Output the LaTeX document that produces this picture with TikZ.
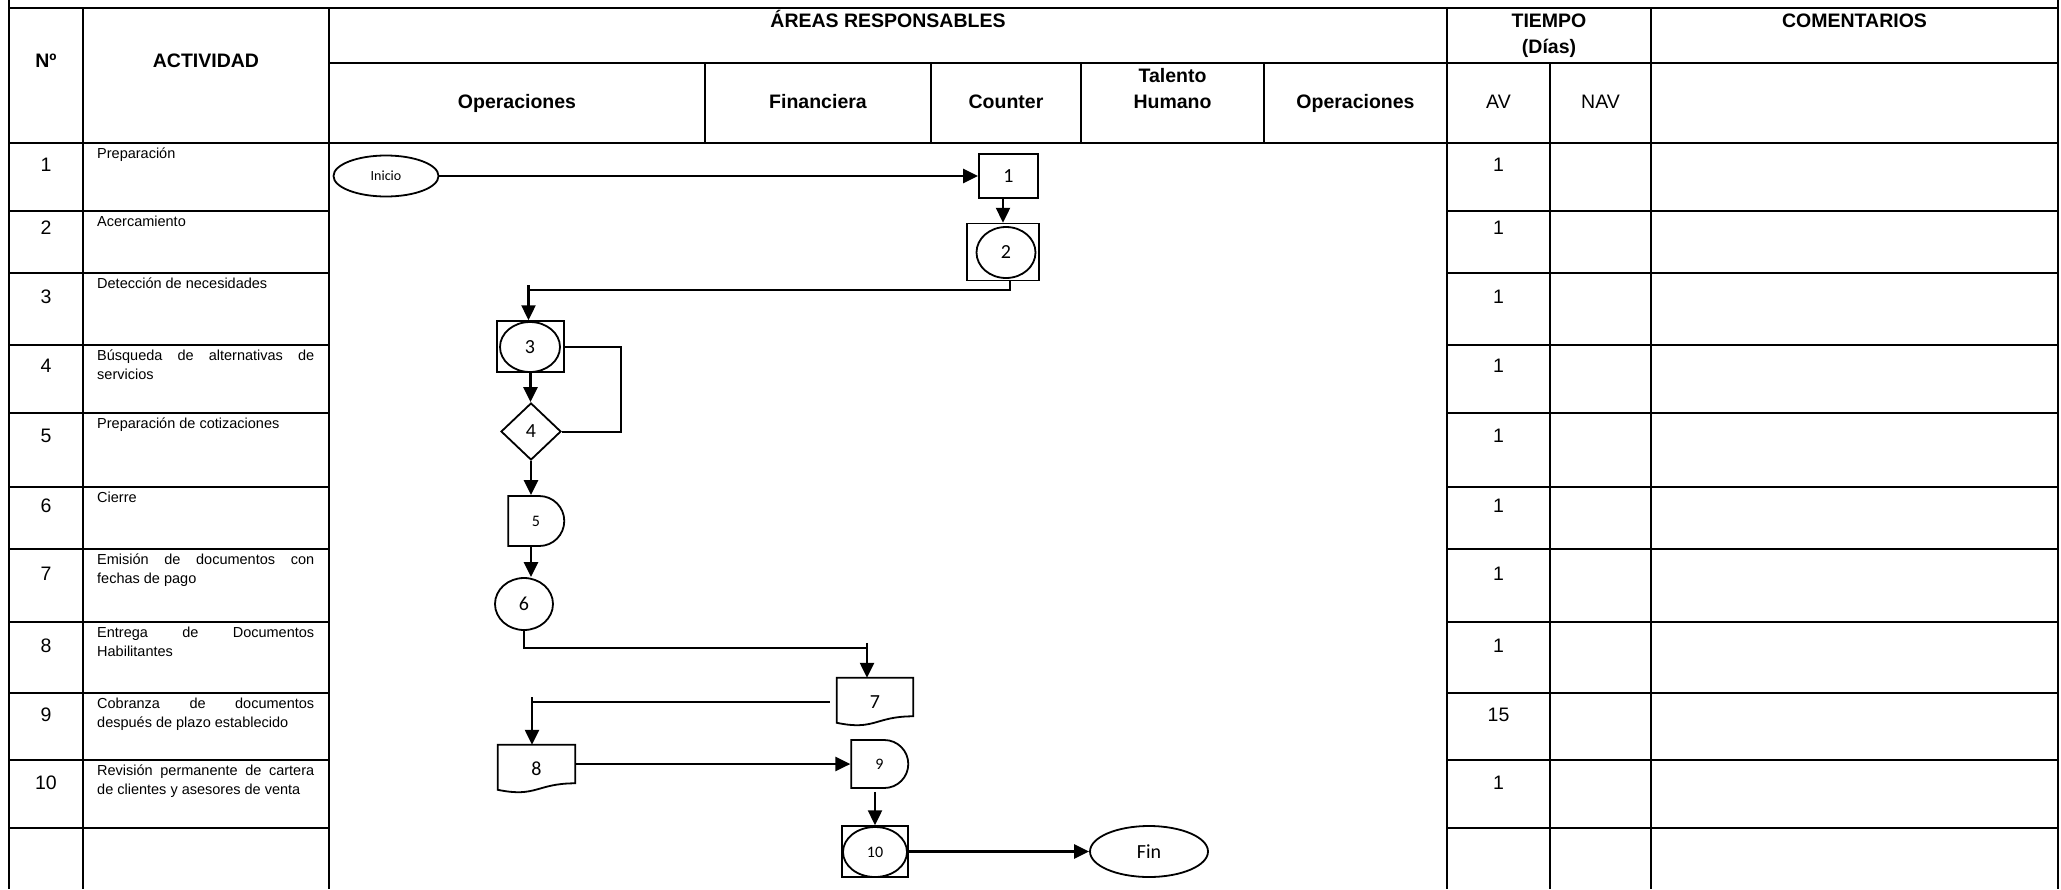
\documentclass[tikz,border=0pt]{standalone}
\usepackage{fontspec}
\setmainfont{Liberation Sans}
\newfontfamily\calibrifont{Carlito}
\usetikzlibrary{arrows.meta,shapes.geometric,shapes.misc,calc}

\begin{document}
\begin{tikzpicture}[x=1pt,y=-1pt,
  grid/.style={line width=2.6pt},
  hdr/.style={font=\bfseries\fontsize{19.5}{25.5}\selectfont, inner sep=0pt, anchor=base},
  num/.style={font=\fontsize{19.5}{23}\selectfont, inner sep=0pt, anchor=base},
  act/.style={font=\fontsize{14.5}{18.6}\selectfont,
              inner sep=0pt, anchor=base west, text width=217pt, align=justify},
  shp/.style={draw, line width=1.8pt, inner sep=0pt, font=\calibrifont\fontsize{20}{24}\selectfont},
  frame/.style={draw, line width=1.5pt, inner sep=0pt},
  small/.style={font=\calibrifont\fontsize{16}{19}\selectfont},
  arr/.style={line width=2.4pt, -{Triangle[length=15pt,width=14pt]}},
  elbow/.style={line width=2pt}]

\fill[white] (0,0) rectangle (2061,889);
\useasboundingbox (0,0) rectangle (2061,889);

% ---------- table frame ----------
\draw[grid] (9,0) -- (9,889);
\draw[grid] (2058,0) -- (2058,889);
\draw[grid] (83,8) -- (83,889);
\draw[grid] (329,8) -- (329,889);
\draw[grid] (1447,8) -- (1447,889);
\draw[grid] (1550,63) -- (1550,889);
\draw[grid] (1651,8) -- (1651,889);
\foreach \x in {705,931,1081,1264} \draw[grid] (\x,63) -- (\x,143);
\draw[grid] (9,8) -- (2058,8);
\draw[grid] (329,63) -- (2058,63);
\draw[grid] (9,143) -- (2058,143);
\foreach \y in {211,273,345,413,487,549,622,693,760,828} {
  \draw[grid] (9,\y) -- (329,\y);
  \draw[grid] (1447,\y) -- (2058,\y);
}

% ---------- headings (multi-line nodes sit on their last baseline) ----------
\node[hdr] (hno) at (46,67) {Nº};
\node[hdr] (hact) at (206,67) {ACTIVIDAD};
\node[hdr] (hareas) at (888,27) {ÁREAS RESPONSABLES};
\node[hdr] (hop1) at (517,108) {Operaciones};
\node[hdr] (hfin) at (818,108) {Financiera};
\node[hdr] (hcou) at (1006,108) {Counter};
\node[hdr, align=center] (htal) at (1172.5,108) {Talento\\Humano};
\node[hdr] (hop2) at (1355.5,108) {Operaciones};
\node[hdr, align=center] (htie) at (1549,53) {TIEMPO\\(Días)};
\node[hdr] (hcom) at (1854.5,27) {COMENTARIOS};
\node[num] (hav) at (1498.5,108) {AV};
\node[num] (hnav) at (1600.5,108) {NAV};

% ---------- activity rows (justified, no hyphenation) ----------
\foreach \i/\top/\b/\a/\t in {
  1/143/171/1/Preparación,
  2/211/234/1/Acercamiento,
  3/273/303/1/Detección de necesidades,
  4/345/372/1/Búsqueda de alternativas de servicios,
  5/413/442/1/Preparación de cotizaciones,
  6/487/512/1/Cierre,
  7/549/580/1/Emisión de documentos con fechas de pago,
  8/622/652/1/Entrega de Documentos Habilitantes,
  9/693/721/15/Cobranza de documentos después de plazo establecido,
  10/760/789/1/Revisión permanente de cartera de clientes y asesores de venta}
{
  \node[num] (no\i) at (46,\b) {\i};
  \node[act] (act\i) at (97,\top+15.5)
    {\hyphenpenalty=10000 \exhyphenpenalty=10000 \tolerance=10000
     \emergencystretch=100pt \hbadness=10000 \t\par};
  \node[num] (av\i) at (1498.5,\b) {\a};
}

% ---------- flowchart ----------
\node[shp, ellipse, minimum width=105pt, minimum height=41pt,
      font=\calibrifont\fontsize{14}{16}\selectfont] (ini) at (386,176) {Inicio};
\node[shp, minimum width=59pt, minimum height=44pt] (b1) at (1008.5,176) {1};

\node[frame, minimum width=72pt, minimum height=57pt] (b2) at (1003,252) {};
\node[shp, ellipse, minimum width=59pt, minimum height=51pt] (c2) at (1006,252.5) {2};

\node[frame, minimum width=67pt, minimum height=51pt] (b3) at (530.5,346.5) {};
\node[shp, ellipse, minimum width=60pt, minimum height=50pt] (c3) at (530,347) {3};

\node[shp, diamond, minimum width=60pt, minimum height=57pt] (d4) at (531,431.5) {4};

\node[shp, small, rounded rectangle, rounded rectangle west arc=none,
      minimum width=56pt, minimum height=50pt] (s5) at (536,521) {5};

\node[shp, ellipse, minimum width=58pt, minimum height=52pt] (c6) at (524,604) {6};

% document shapes: straight top and sides, wavy bottom
\node[inner sep=0pt, minimum width=76pt, minimum height=48pt,
      font=\calibrifont\fontsize{20}{24}\selectfont] (s7) at (875,702) {7};
\draw[line width=1.8pt] (s7.north west) -- (s7.north east) -- ($(s7.north east)+(0,38.5)$)
  .. controls ($(s7.north)+(0,38.5)$) and ($(s7.north)+(0,53)$) .. ($(s7.north west)+(0,45)$) -- cycle;

\node[inner sep=0pt, minimum width=77pt, minimum height=48pt,
      font=\calibrifont\fontsize{20}{24}\selectfont] (s8) at (536.5,769) {8};
\draw[line width=1.8pt] (s8.north west) -- (s8.north east) -- ($(s8.north east)+(0,38.5)$)
  .. controls ($(s8.north)+(0,38.5)$) and ($(s8.north)+(0,53)$) .. ($(s8.north west)+(0,45)$) -- cycle;

\node[shp, small, rounded rectangle, rounded rectangle west arc=none,
      minimum width=57pt, minimum height=48pt] (s9) at (879.5,764) {9};

\node[frame, minimum width=66pt, minimum height=51pt] (b10) at (875,851.5) {};
\node[shp, small, ellipse, minimum width=64pt, minimum height=50pt] (c10) at (875,852) {10};

\node[shp, ellipse, minimum width=118pt, minimum height=51pt] (fin) at (1149,851.5) {Fin};

% ---------- connectors ----------
\draw[arr] (ini) -- (b1);
\draw[arr] (b1.south -| b2.center) -- (b2.north);

\coordinate (k1) at ($(b3.north)+(-2,-30)$);
\draw[elbow] ([xshift=7pt]b2.south) |- (k1);
\draw[arr] ([yshift=5pt]k1) -- (k1 |- b3.north);

\draw[elbow] (b3.east) -- ++(56,0) |- (d4.east);
\draw[arr] (b3.south) -- (b3.south |- d4.north);
\draw[arr] (d4.south) -- (d4.south |- s5.north);
\draw[arr] (d4.south |- s5.south) -- (d4.south |- c6.north);

\coordinate (k2) at ($(s7.north)+(-8,-30)$);
\draw[elbow] (c6.south) |- (k2);
\draw[arr] ([yshift=5pt]k2) -- (k2 |- s7.north);

\coordinate (k3) at ([xshift=-4.5pt]s8.north |- s7.west);
\draw[elbow, shorten <=7pt] (s7.west) -- (k3);
\draw[arr] ([yshift=5pt]k3) -- (k3 |- s8.north);

\draw[arr] (s8.east |- s9.west) -- (s9.west);
\draw[arr, shorten <=3pt] (b10.north |- s9.south) -- (b10.north);
\draw[arr] (b10.east) -- (fin.west);

\end{tikzpicture}
\end{document}
